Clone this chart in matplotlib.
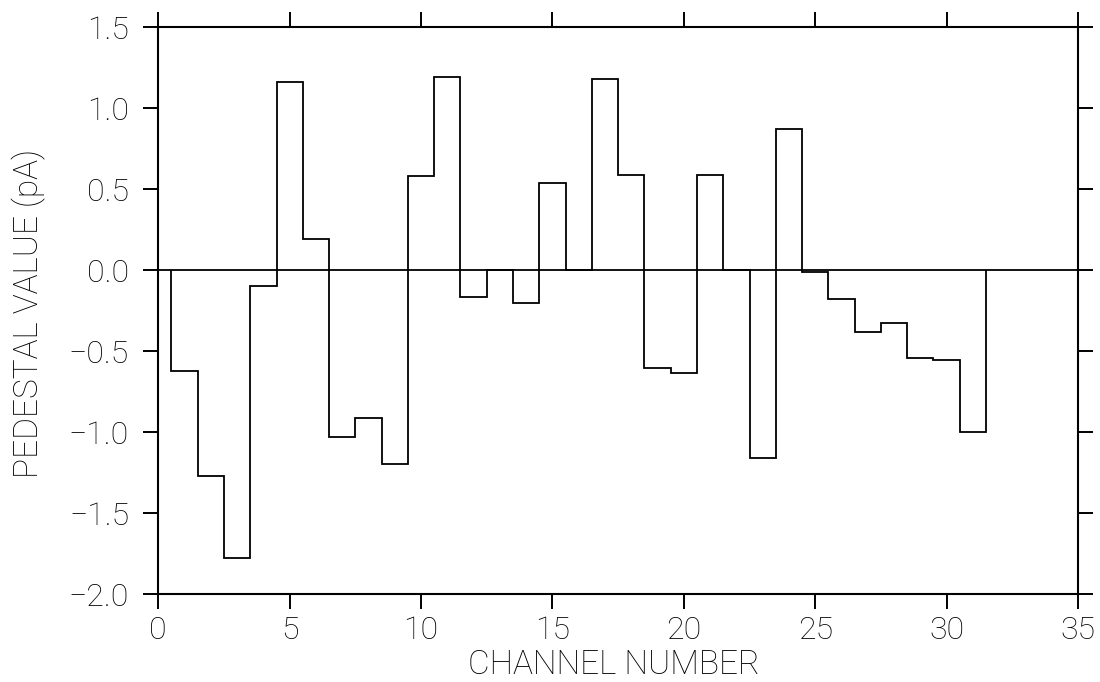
import numpy as np
import matplotlib
matplotlib.use("Agg")
import matplotlib.pyplot as plt

# pedestal value per channel (pA), channels 1..31
channels = np.arange(1, 32)
pedestal = [-0.62, -1.27, -1.78, -0.10, 1.16, 0.19, -1.03, -0.915, -1.20, 0.58,
            1.19, -0.165, 0.0, -0.20, 0.54, 0.0, 1.18, 0.585, -0.605, -0.635,
            0.59, 0.0, -1.16, 0.87, -0.01, -0.18, -0.38, -0.325, -0.54, -0.555,
            -1.00]

xticks = [0, 5, 10, 15, 20, 25, 30, 35]
yticks = [-2.0, -1.5, -1.0, -0.5, 0.0, 0.5, 1.0, 1.5]

plt.rcParams['font.family'] = ['Roboto', 'DejaVu Sans']
plt.rcParams['font.weight'] = 'light'
plt.rcParams['axes.labelweight'] = 'light'


def main():
    fig = plt.figure(figsize=(11, 6.82), dpi=100)
    ax = fig.add_axes([0.1439, 0.129, 0.8361, 0.831])

    edges = np.append(channels - 0.5, channels[-1] + 0.5)
    ax.stairs(pedestal, edges, baseline=0, color='black', lw=1.3)
    ax.axhline(0, color='black', lw=1.3)

    ax.set_xlim(0, 35)
    ax.set_ylim(-2.0, 1.5)
    ax.set_xticks(xticks)
    ax.set_yticks(yticks)
    ax.set_xticklabels([str(t) for t in xticks])
    ax.set_yticklabels([('%.1f' % t).replace('-', '\u2212') for t in yticks])

    ax.tick_params(direction='out', length=11, width=1.4, labelsize=23,
                   labelcolor='black', top=True, right=True)
    ax.tick_params(axis='x', pad=5)
    ax.tick_params(axis='y', pad=10)
    for s in ax.spines.values():
        s.set_linewidth(1.5)

    ax.set_xlabel('CHANNEL NUMBER', fontsize=24, va='top', color='black')
    ax.xaxis.set_label_coords(0.495, -0.097)
    ax.set_ylabel('PEDESTAL VALUE (pA)', fontsize=24, va='center', color='black')
    ax.yaxis.set_label_coords(-0.141, 0.495)

    fig.savefig('out.png', dpi=100)


if __name__ == '__main__':
    main()
